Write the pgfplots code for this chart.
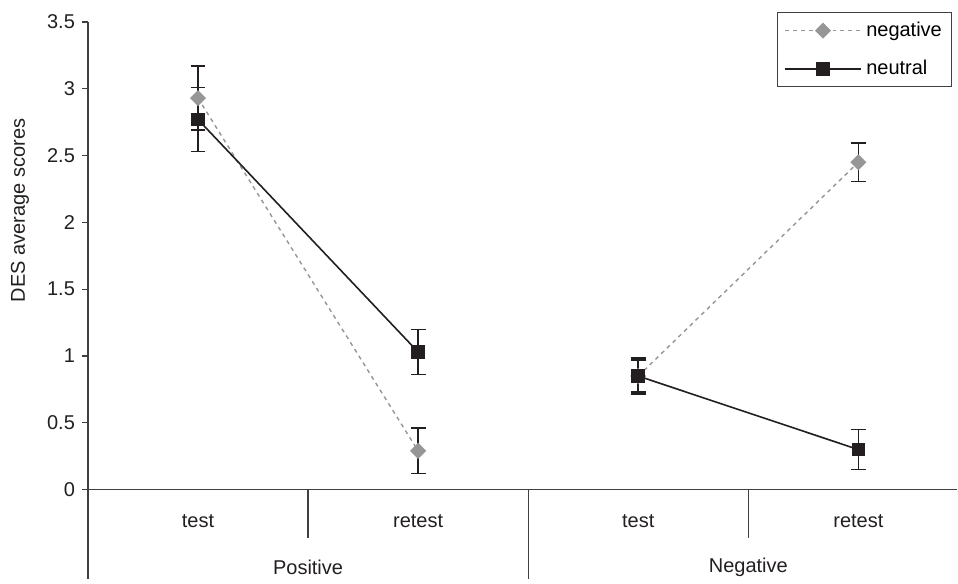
\documentclass[border=0pt]{standalone}
\usepackage{fontspec}
\setmainfont{Liberation Sans}
\usepackage{pgfplots}
\pgfplotsset{compat=1.18}
\definecolor{neg}{RGB}{150,150,150}
\definecolor{neu}{RGB}{35,31,32}
\begin{document}
\fontsize{10}{12}\selectfont
\begin{tikzpicture}
\begin{axis}[
 scale only axis, width=435pt, height=278.5pt,
 xmin=-0.5, xmax=3.45, ymin=-0.666, ymax=3.5,
 axis x line=none, axis y line*=left,
 axis line style={draw=black!75, line width=0.6pt},
 ytick={0,0.5,1,1.5,2,2.5,3,3.5},
 yticklabels={0,0.5,1,1.5,2,2.5,3,3.5},
 yticklabel style={font=\fontsize{10}{12}\selectfont, text=neu},
 tick align=outside, major tick length=3pt,
 tick style={draw=black!75, line width=0.6pt},
 clip=false, unbounded coords=jump,
 legend style={at={(rel axis cs:0.9943,1.0175)}, anchor=north east,
   draw=black!75, line width=0.6pt, inner xsep=3pt, inner ysep=2.5pt,
   font=\fontsize{10}{10}\selectfont, cells={anchor=west}, row sep=6.5pt,
   /tikz/column 2/.style={column sep=2pt}},
 legend cell align=left,
 legend image code/.code={\draw[mark repeat=2, mark phase=2, #1] plot coordinates {(0pt,0pt)(19.25pt,0pt)(38.5pt,0pt)};},
]
\addplot[neg, line width=0.7pt, dash pattern=on 2pt off 2pt,
  mark=square*, mark size=2.5pt, mark options={rotate=45, solid, fill=neg, draw=neg},
  error bars/.cd, y dir=both, y explicit,
  error bar style={neu, line width=0.75pt, solid},
  error mark options={rotate=90, mark size=3.75pt, neu, line width=0.75pt, solid}]
 coordinates {(0,2.93) +- (0,0.24) (1,0.29) +- (0,0.17) (1.5,nan) (2,0.85) +- (0,0.12) (3,2.45) +- (0,0.145)};
\addlegendentry{negative}
\addplot[neu, line width=0.8pt, solid,
  mark=square*, mark size=3pt, mark options={solid, fill=neu, draw=neu},
  error bars/.cd, y dir=both, y explicit,
  error bar style={neu, line width=0.75pt, solid},
  error mark options={rotate=90, mark size=3.75pt, neu, line width=0.75pt, solid}]
 coordinates {(0,2.77) +- (0,0.24) (1,1.03) +- (0,0.17) (1.5,nan) (2,0.85) +- (0,0.135) (3,0.30) +- (0,0.15)};
\addlegendentry{neutral}
\draw[black!75, line width=0.6pt] (axis cs:-0.5,0) -- (axis cs:3.45,0);
\draw[black!75, line width=0.6pt] (axis cs:0.5,0) -- (axis cs:0.5,-0.359);
\draw[black!75, line width=0.6pt] (axis cs:2.5,0) -- (axis cs:2.5,-0.359);
\draw[black!75, line width=0.6pt] (axis cs:1.5,0) -- (axis cs:1.5,-0.666);
\node[text=neu] at (axis cs:0,-0.232) {test};
\node[text=neu] at (axis cs:1,-0.232) {retest};
\node[text=neu] at (axis cs:2,-0.232) {test};
\node[text=neu] at (axis cs:3,-0.232) {retest};
\node[text=neu] at (axis cs:0.5,-0.583) {Positive};
\node[text=neu] at (axis cs:2.5,-0.583) {Negative};
\node[text=neu, rotate=90] at ([xshift=-34pt]axis cs:-0.5,2.09) {DES average scores};
\path ([xshift=-44pt,yshift=11pt]rel axis cs:0,1) -- (rel axis cs:1,0);
\end{axis}
\end{tikzpicture}
\end{document}
